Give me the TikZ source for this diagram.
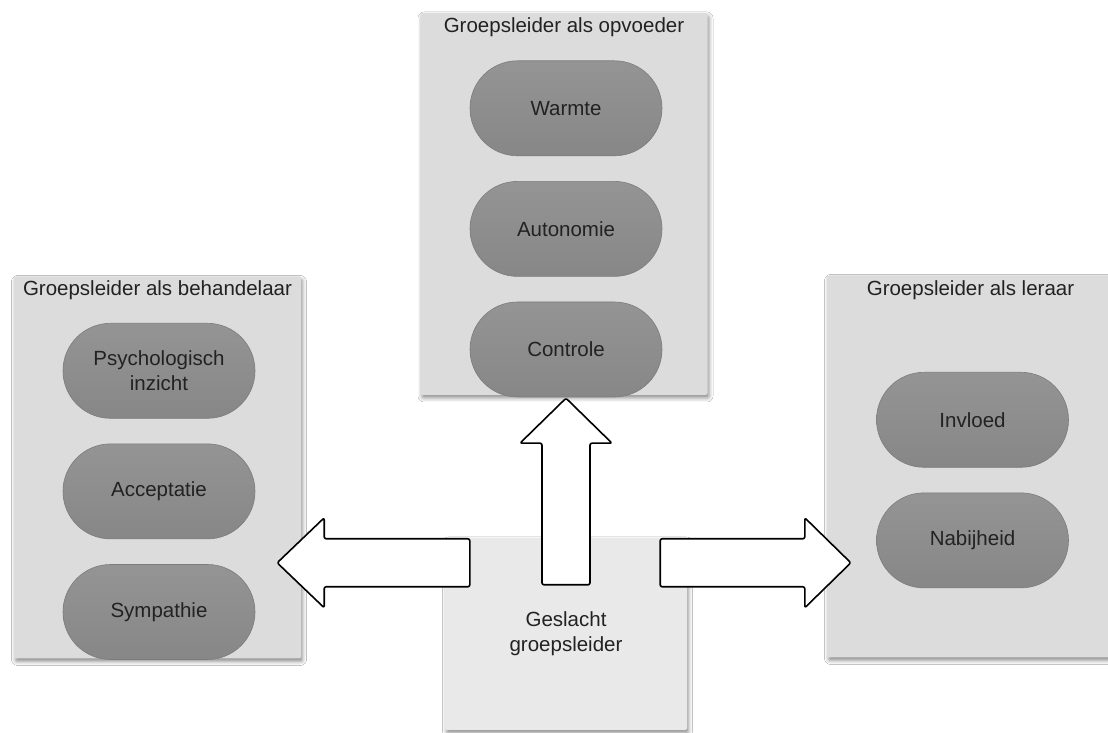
\documentclass[tikz,border=0pt]{standalone}
\usepackage{fontspec}
\setmainfont{Liberation Sans}
\usetikzlibrary{shapes.misc,positioning,calc,shadows.blur}
\definecolor{ink}{HTML}{222222}
\definecolor{rolfill}{HTML}{DCDCDC}
\definecolor{kernfill}{HTML}{E9E9E9}
\definecolor{pilltop}{HTML}{949494}
\definecolor{pillbot}{HTML}{878787}
\definecolor{pillrand}{HTML}{7C7C7C}

\begin{document}
\begin{tikzpicture}[x=1pt,y=1pt,font=\fontsize{20.5}{25}\selectfont,node distance=25pt,
  rol/.style={fill=rolfill,rounded corners=2pt,minimum width=287pt,minimum height=382pt,inner sep=0pt,
    blur shadow={shadow xshift=1.5pt,shadow yshift=-3pt,shadow blur radius=4pt,shadow opacity=45}},
  kern/.style={rol,fill=kernfill,minimum width=242pt,minimum height=192pt,align=center,text=ink},
  ttl/.style={text=ink,inner sep=0pt},
  pill/.style={rounded rectangle,draw=pillrand,line width=0.6pt,top color=pilltop,bottom color=pillbot,
    minimum width=192pt,minimum height=95pt,inner sep=0pt,align=center,text=ink},
  barrow/.style={draw=black,fill=white,line width=1.6pt,rounded corners=2pt,line join=round}]
\useasboundingbox (0,0) rectangle (1108,733);
\fill[white] (0,0) rectangle (1108,733);

% rollen
\node[rol] (opvoeder) at (564,529) {};
\node[ttl] (opvoedert) at ($(opvoeder.north)+(0,-14)$) {Groepsleider als opvoeder};
\node[pill] (warmte) at ($(opvoeder.north)+(2,-95.5)$) {Warmte};
\node[pill,below=of warmte] (autonomie) {Autonomie};
\node[pill,below=of autonomie] (controle) {Controle};

\node[rol] (behandelaar) at (157.5,265.5) {};
\node[ttl] (behandelaart) at ($(behandelaar.north)+(0,-13.5)$) {Groepsleider als behandelaar};
\node[pill] (inzicht) at ($(behandelaar.north)+(1.5,-94.5)$) {Psychologisch\\inzicht};
\node[pill,below=of inzicht] (acceptatie) {Acceptatie};
\node[pill,below=of acceptatie] (sympathie) {Sympathie};

\node[rol] (leraar) at (970.5,266.5) {};
\node[ttl] (leraart) at ($(leraar.north)+(0,-15)$) {Groepsleider als leraar};
\node[pill] (invloed) at ($(leraar.north)+(2,-144.5)$) {Invloed};
\node[pill,below=of invloed] (nabijheid) {Nabijheid};

% kern
\node[kern] (geslacht) at (566,99) {Geslacht\\groepsleider};

% pijlen
\draw[barrow] let \p1=(geslacht.north), \p2=(opvoeder.south) in
  (\x1-24,\y1-47) -- (\x1+24,\y1-47) -- (\x1+24,\y2-48) -- (\x1+46,\y2-48)
  -- (\x1,\y2-3) -- (\x1-46,\y2-48) -- (\x1-24,\y2-48) -- cycle;
\draw[barrow] let \p1=(geslacht.north east), \p2=(leraar.west) in
  (\x1-27,\y1-1) -- (\x2-22,\y1-1) -- (\x2-22,\y1+20) -- (\x2+24,\y1-25)
  -- (\x2-22,\y1-70) -- (\x2-22,\y1-49) -- (\x1-27,\y1-49) -- cycle;
\draw[barrow] let \p1=(geslacht.north west), \p2=(behandelaar.east) in
  (\x1+25,\y1-1) -- (\x2+23,\y1-1) -- (\x2+23,\y1+20) -- (\x2-24,\y1-25)
  -- (\x2+23,\y1-70) -- (\x2+23,\y1-49) -- (\x1+25,\y1-49) -- cycle;
\end{tikzpicture}
\end{document}
